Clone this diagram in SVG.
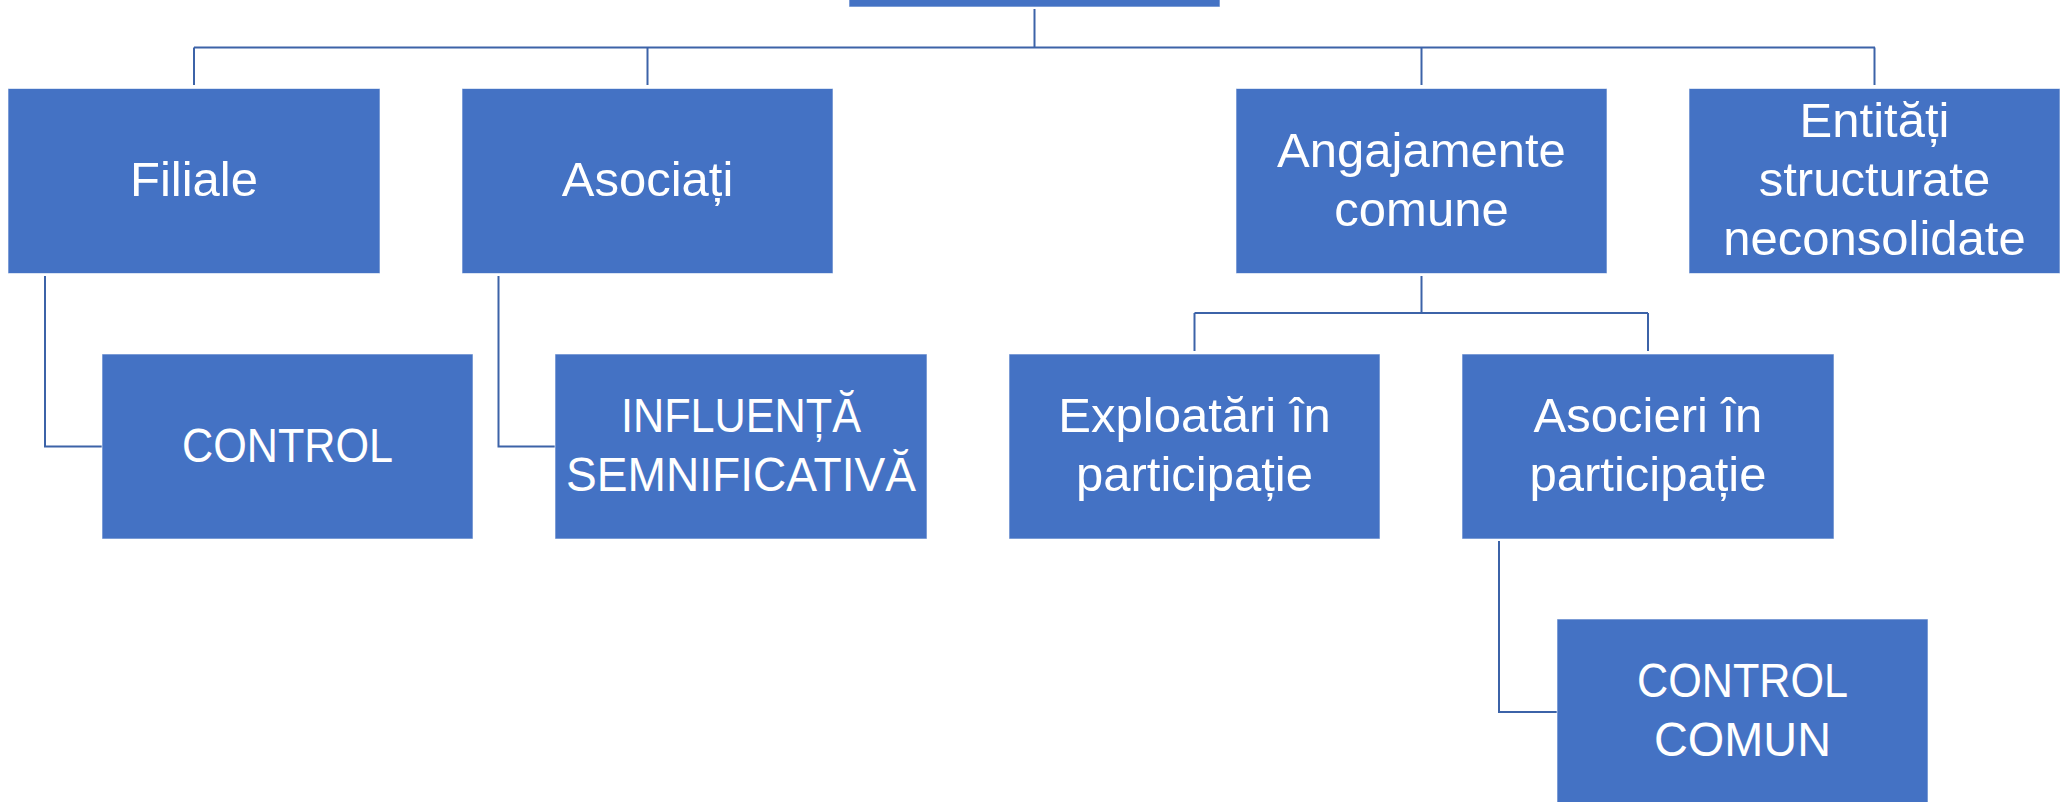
<svg xmlns="http://www.w3.org/2000/svg" width="2071" height="802" viewBox="0 0 2071 802">
<style>
.box{fill:#4472C4;stroke:#ffffff;stroke-width:1;stroke-opacity:0.6}
.t{font-family:"Liberation Sans",Arial,sans-serif;font-size:49px;fill:#ffffff;text-anchor:middle}
.c{fill:none;stroke:#3C63A8;stroke-width:2}
</style>
<rect width="2071" height="802" fill="#ffffff"/>
<g id="connectors">
<path class="c" d="M1034.5 9 V47.5"/>
<path class="c" d="M194 47.5 H1875"/>
<path class="c" d="M194 47.5 V85"/>
<path class="c" d="M647.5 47.5 V85"/>
<path class="c" d="M1421.5 47.5 V85"/>
<path class="c" d="M1874.5 47.5 V85"/>
<path class="c" d="M45 276 V446.5 H102"/>
<path class="c" d="M498.5 276 V446.5 H555"/>
<path class="c" d="M1421.5 276 V313"/>
<path class="c" d="M1194.5 313 H1648"/>
<path class="c" d="M1194.5 313 V351"/>
<path class="c" d="M1648 313 V351"/>
<path class="c" d="M1499 541 V712 H1557"/>
</g>
<g id="root"><rect class="box" x="849" y="-178" width="371" height="185"/></g>
<g id="filiale"><rect class="box" x="8" y="88.5" width="372" height="185"/><text class="t" x="194" y="196">Filiale</text></g>
<g id="asociati"><rect class="box" x="462" y="88.5" width="371" height="185"/><text class="t" x="647.5" y="196">Asociați</text></g>
<g id="angajamente"><rect class="box" x="1236" y="88.5" width="371" height="185"/><text class="t" x="1421.5" y="166.5">Angajamente</text><text class="t" x="1421.5" y="225.5">comune</text></g>
<g id="entitati"><rect class="box" x="1689" y="88.5" width="371" height="185"/><text class="t" x="1874.5" y="137">Entități</text><text class="t" x="1874.5" y="196">structurate</text><text class="t" x="1874.5" y="255">neconsolidate</text></g>
<g id="control"><rect class="box" x="102" y="354" width="371" height="185"/><text class="t" x="287.5" y="461.5" textLength="211" lengthAdjust="spacingAndGlyphs">CONTROL</text></g>
<g id="influenta"><rect class="box" x="555" y="354" width="372" height="185"/><text class="t" x="741" y="432" textLength="240" lengthAdjust="spacingAndGlyphs">INFLUENȚĂ</text><text class="t" x="741" y="491" textLength="350" lengthAdjust="spacingAndGlyphs">SEMNIFICATIVĂ</text></g>
<g id="exploatari"><rect class="box" x="1009" y="354" width="371" height="185"/><text class="t" x="1194.5" y="432">Exploatări în</text><text class="t" x="1194.5" y="491">participație</text></g>
<g id="asocieri"><rect class="box" x="1462" y="354" width="372" height="185"/><text class="t" x="1648" y="432">Asocieri în</text><text class="t" x="1648" y="491">participație</text></g>
<g id="control-comun"><rect class="box" x="1557" y="619" width="371" height="185"/><text class="t" x="1742.5" y="697" textLength="211" lengthAdjust="spacingAndGlyphs">CONTROL</text><text class="t" x="1742.5" y="756" textLength="177" lengthAdjust="spacingAndGlyphs">COMUN</text></g>
</svg>
